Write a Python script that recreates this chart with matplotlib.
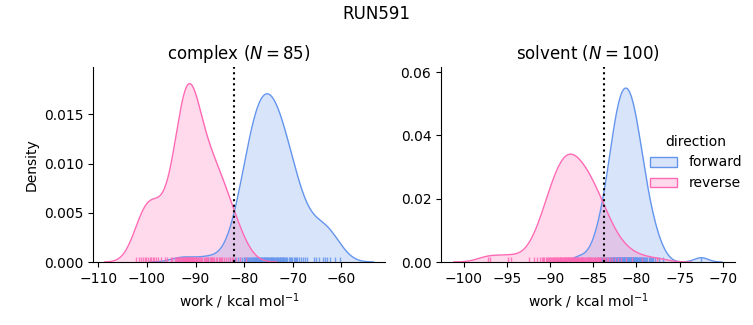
import numpy as np
import matplotlib
matplotlib.use('Agg')
import matplotlib.pyplot as plt
from matplotlib.patches import Patch
import matplotlib.transforms as mtransforms

run_name = 'RUN591'
phases = ['complex', 'solvent']
directions = ['forward', 'reverse']
colors = {'forward': '#6495ED', 'reverse': '#FF69B4'}

# work values (kcal/mol)
complex_forward = [
    -92.6, -87.5, -83.0, -81.8, -81.3, -80.8, -80.4, -80.1,
    -79.85, -79.6, -79.35, -79.1,
    -78.9, -78.75, -78.55, -78.4, -78.2, -78.05,
    -77.9, -77.75, -77.6, -77.45, -77.3, -77.15, -77.0,
    -76.9, -76.75, -76.6, -76.45, -76.3, -76.15, -76.0,
    -75.85, -75.7, -75.55, -75.4, -75.25, -75.1, -75.0,
    -74.85, -74.7, -74.55, -74.4, -74.25, -74.1, -74.0,
    -73.85, -73.65, -73.5, -73.3, -73.15, -73.0,
    -72.9, -72.7, -72.55, -72.4, -72.2, -72.05,
    -71.9, -71.7, -71.5, -71.3, -71.1,
    -70.85, -70.6, -70.35, -70.1, -69.8, -69.55, -69.3, -69.05,
    -68.7, -68.2, -67.8, -67.4, -67.0, -65.6, -65.1, -64.6,
    -63.8, -63.4, -63.0, -62.4, -61.3, -60.3,
]
complex_reverse = [
    -102.2, -101.7, -101.3, -100.8, -100.4, -100.1, -99.8, -99.4, -99.1,
    -98.8, -98.5, -98.1, -97.7, -97.2, -96.2,
    -95.8, -95.1, -94.9, -94.3, -94.1,
    -93.9, -93.7, -93.5, -93.3, -93.1,
    -92.9, -92.8, -92.6, -92.5, -92.4, -92.3, -92.2, -92.0,
    -91.9, -91.85, -91.8, -91.7, -91.6, -91.5, -91.4, -91.3, -91.25, -91.1, -91.0,
    -90.9, -90.8, -90.65, -90.6, -90.5, -90.3, -90.2, -90.0,
    -89.9, -89.7, -89.5, -89.3, -89.1, -88.8, -88.6, -88.3, -88.1,
    -87.9, -87.6, -87.4, -87.1, -86.9, -86.75, -86.6, -86.4, -86.1,
    -85.8, -85.5, -85.2, -84.9, -84.7, -84.5, -84.2,
    -83.8, -83.3, -82.8, -82.55, -82.3, -81.6, -80.8, -79.7,
]
solvent_forward = [
    -86.8, -85.5, -84.8, -84.5, -84.2, -84.05,
    -83.93, -83.81, -83.68, -83.56, -83.43, -83.31, -83.18, -83.06,
    -82.97, -82.91, -82.86, -82.8, -82.74, -82.69, -82.63, -82.58, -82.52,
    -82.46, -82.41, -82.35, -82.29, -82.24, -82.18, -82.12, -82.07, -82.02,
    -81.98, -81.94, -81.9, -81.86, -81.82, -81.78, -81.73, -81.69, -81.65, -81.61,
    -81.53, -81.48, -81.44, -81.4, -81.32, -81.27, -81.23, -81.19,
    -81.15, -81.1, -81.06, -81.02,
    -80.97, -80.92, -80.88, -80.83, -80.78, -80.74, -80.69, -80.64, -80.59, -80.55,
    -80.5, -80.45, -80.4, -80.36, -80.31, -80.26, -80.21, -80.17, -80.12, -80.07, -80.03,
    -79.96, -79.89, -79.82, -79.75, -79.68, -79.61, -79.54, -79.47, -79.4, -79.33,
    -79.26, -79.19, -79.12, -79.05,
    -78.9, -78.74, -78.58, -78.42, -78.26, -78.15, -78.1, -77.8, -77.35, -76.9, -72.5,
]
solvent_reverse = [
    -97.2, -96.9, -94.8, -94.5, -92.4, -91.8, -91.5, -91.2,
    -90.93, -90.79, -90.65, -90.5, -90.36, -90.21, -90.07,
    -89.95, -89.86, -89.77, -89.68, -89.59, -89.5, -89.41, -89.32, -89.23, -89.14, -89.05,
    -88.96, -88.89, -88.82, -88.75, -88.68, -88.61, -88.54, -88.46, -88.39, -88.32,
    -88.25, -88.18, -88.11, -88.04,
    -87.96, -87.89, -87.82, -87.75, -87.68, -87.61, -87.54, -87.46, -87.39, -87.32,
    -87.25, -87.18, -87.11, -87.04,
    -86.96, -86.88, -86.79, -86.71, -86.63, -86.54, -86.46, -86.38, -86.29, -86.21, -86.13, -86.04,
    -85.95, -85.86, -85.77, -85.68, -85.59, -85.5, -85.41, -85.32, -85.23, -85.14, -85.05,
    -84.94, -84.83, -84.72, -84.61, -84.5, -84.39, -84.28, -84.17, -84.06,
    -83.92, -83.75, -83.58, -83.42, -83.25, -83.08,
    -82.83, -82.5, -82.17, -81.75, -81.25, -80.5, -79.4, -77.6,
]
n_pairs = {'complex': 85, 'solvent': 100}
free_energy = {'complex': -82.1, 'solvent': -83.8}

works = {
    ('complex', 'forward'): complex_forward,
    ('complex', 'reverse'): complex_reverse,
    ('solvent', 'forward'): solvent_forward,
    ('solvent', 'reverse'): solvent_reverse,
}
n_total = sum(len(v) for v in works.values())


def kde_curve(values, weight):
    # gaussian kde with scott bandwidth, normalised over all data (common_norm)
    x = np.asarray(values, dtype=float)
    bw = x.std(ddof=1) * len(x) ** (-1 / 5)
    grid = np.linspace(x.min() - 3 * bw, x.max() + 3 * bw, 200)
    z = (grid[:, None] - x[None, :]) / bw
    dens = np.exp(-0.5 * z ** 2).sum(axis=1) / (len(x) * bw * np.sqrt(2 * np.pi))
    return grid, dens * weight


fig = plt.figure(figsize=(7.53, 3.25), dpi=100)
ax_pos = {'complex': [0.1235, 0.1938, 0.3878, 0.6], 'solvent': [0.5857, 0.1938, 0.3904, 0.6]}
xlims = {'complex': (-111.1, -51.0), 'solvent': (-102.6, -68.6)}
ylims = {'complex': (0, 0.0198), 'solvent': (0, 0.0616)}

for phase in phases:
    ax = fig.add_axes(ax_pos[phase])
    trans = mtransforms.blended_transform_factory(ax.transData, ax.transAxes)
    for direction in directions:
        vals = works[(phase, direction)]
        gx, gy = kde_curve(vals, len(vals) / n_total)
        c = colors[direction]
        ax.fill_between(gx, 0, gy, color=c, alpha=0.25, linewidth=0)
        ax.plot(gx, gy, color=c, linewidth=1)
        ax.vlines(vals, 0, 0.025, transform=trans, color=c, linewidth=1, alpha=0.85)
    ax.axvline(free_energy[phase], color='k', linestyle=':', linewidth=1.5)
    ax.set_xlim(*xlims[phase])
    ax.set_ylim(*ylims[phase])
    ax.spines['top'].set_visible(False)
    ax.spines['right'].set_visible(False)
    ax.set_title(f'{phase} ($N = {n_pairs[phase]}$)')
    ax.set_xlabel('work / kcal mol$^{-1}$')
    if phase == 'complex':
        ax.set_ylabel('Density')
        ax.set_yticks([0, 0.005, 0.010, 0.015])
        ax.set_yticklabels(['0.000', '0.005', '0.010', '0.015'])
    else:
        ax.set_xticks([-100, -95, -90, -85, -80, -75, -70])
        ax.set_yticks([0, 0.02, 0.04, 0.06])
        ax.set_yticklabels(['0.00', '0.02', '0.04', '0.06'])

handles = [Patch(facecolor=matplotlib.colors.to_rgba(colors[d], 0.25), edgecolor=colors[d])
           for d in directions]
fig.legend(handles, directions, title='direction', frameon=False,
           loc='center left', bbox_to_anchor=(0.846, 0.5))
fig.suptitle(run_name, y=0.985)

fig.savefig('out.png', dpi=100)
